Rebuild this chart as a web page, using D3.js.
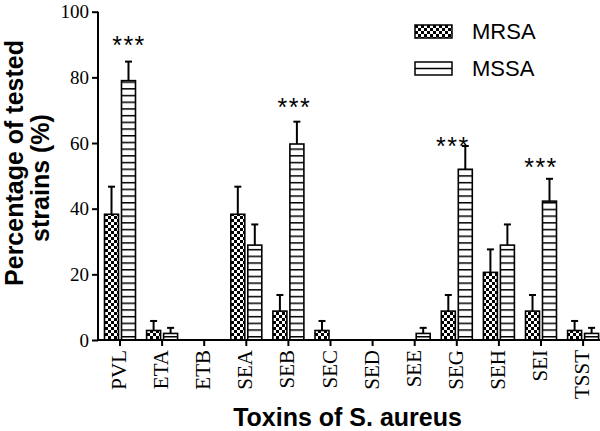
<!DOCTYPE html>
<html><head><meta charset="utf-8">
<script src="https://cdn.jsdelivr.net/npm/d3@7/dist/d3.min.js"></script>
<style>body{margin:0;background:#fff}svg{display:block}</style>
</head><body>
<svg id="chart" width="600" height="431"></svg>
<script>
const categories = ["PVL","ETA","ETB","SEA","SEB","SEC","SED","SEE","SEG","SEH","SEI","TSST"];
const seriesNames = ["MRSA","MSSA"];
const mrsaValues = [38.3, 2.9, 0, 38.3, 8.8, 2.9, 0, 0, 8.8, 20.6, 8.8, 2.9];
const mrsaErrors = [46.7, 5.8, 0, 46.7, 13.7, 5.8, 0, 0, 13.7, 27.6, 13.7, 5.8];
const mssaValues = [79.0, 2.0, 0, 28.9, 59.7, 0, 0, 2.0, 52.0, 28.9, 42.3, 2.0];
const mssaErrors = [84.8, 3.7, 0, 35.2, 66.5, 0, 0, 3.7, 59.1, 35.2, 49.1, 3.7];
const yTicks = [0, 20, 40, 60, 80, 100];
const starCategories = ["PVL","SEB","SEG","SEI"];
const starLevels = [91.4, 72.5, 60.9, 54.4];
const starLabel = "***";
const xTitle = "Toxins of S. aureus";
const yTitleLines = ["Percentage of tested", "strains (%)"];

const svg = d3.select("#chart");
const defs = svg.append("defs");
const chk = defs.append("pattern").attr("id","checker").attr("patternUnits","userSpaceOnUse")
  .attr("width",6).attr("height",6);
chk.append("rect").attr("width",6).attr("height",6).attr("fill","#fff");
chk.append("rect").attr("width",3).attr("height",3).attr("fill","#000");
chk.append("rect").attr("x",3).attr("y",3).attr("width",3).attr("height",3).attr("fill","#000");
const hl = defs.append("pattern").attr("id","hlines").attr("patternUnits","userSpaceOnUse")
  .attr("width",10).attr("height",6.7).attr("y",1);
hl.append("rect").attr("width",10).attr("height",6.7).attr("fill","#fff");
hl.append("rect").attr("y",0).attr("width",10).attr("height",1.5).attr("fill","#000");
const fills = {MRSA:"url(#checker)", MSSA:"url(#hlines)"};

const x0 = d3.scaleBand().domain(categories).range([98.95, 604.15]).paddingInner(0.264).paddingOuter(0.132);
const x1 = d3.scaleBand().domain(seriesNames).range([0, x0.bandwidth()]).paddingInner(0.176);
const y = d3.scaleLinear().domain([0,100]).range([340, 11.7]);

const data = [];
categories.forEach((c,i)=>{
  data.push({cat:c, s:"MRSA", v:mrsaValues[i], e:mrsaErrors[i]});
  data.push({cat:c, s:"MSSA", v:mssaValues[i], e:mssaErrors[i]});
});
const shown = data.filter(d=>d.v>0);

const eb = svg.append("g").attr("stroke","#000").attr("stroke-width",2);
shown.forEach(d=>{
  const cx = x0(d.cat)+x1(d.s)+x1.bandwidth()/2;
  eb.append("line").attr("x1",cx).attr("x2",cx).attr("y1",y(d.v)).attr("y2",y(d.e));
  eb.append("line").attr("x1",cx-3.5).attr("x2",cx+3.5).attr("y1",y(d.e)).attr("y2",y(d.e));
});

svg.append("g").selectAll("rect").data(shown).join("rect")
  .attr("x",d=>x0(d.cat)+x1(d.s))
  .attr("y",d=>y(d.v))
  .attr("width",x1.bandwidth())
  .attr("height",d=>y(0)-y(d.v))
  .attr("fill",d=>fills[d.s])
  .attr("stroke","#000").attr("stroke-width",1.6);

const starNudge = [9, 6, -4, 0];
svg.append("g").selectAll("text").data(starCategories).join("text")
  .attr("x",(c,i)=>x0(c)+x0.bandwidth()/2+starNudge[i])
  .attr("y",(c,i)=>y(starLevels[i])+14.5)
  .attr("text-anchor","middle")
  .attr("font-family","'Liberation Sans', Arial, sans-serif")
  .attr("font-size",25).attr("letter-spacing",1.5)
  .text(starLabel);

const yAxis = svg.append("g").attr("transform","translate(98,0)")
  .call(d3.axisLeft(y).tickValues(yTicks).tickSize(6).tickPadding(3).tickFormat(d3.format("d")));
yAxis.select(".domain").attr("stroke-width",2).attr("d","M0,"+y(100)+"V"+(y(0)+1));
yAxis.selectAll(".tick line").attr("stroke-width",2);
yAxis.selectAll(".tick text").attr("font-family","'Liberation Serif','Times New Roman',serif").attr("font-size",19).attr("fill","#000");

const xAxis = svg.append("g").attr("transform","translate(0,340)")
  .call(d3.axisBottom(x0).tickSize(6).tickSizeOuter(0));
xAxis.select(".domain").attr("stroke-width",2).attr("d","M97,0H604");
xAxis.selectAll(".tick line").attr("stroke-width",2);
xAxis.selectAll(".tick text")
  .attr("font-family","'Liberation Serif','Times New Roman',serif").attr("font-size",21).attr("fill","#000")
  .attr("text-anchor","end").attr("y",0).attr("dy",0)
  .attr("transform","translate(6,10) rotate(-90)");

svg.append("text").attr("x",347.5).attr("y",426)
  .attr("text-anchor","middle").attr("font-family","'Liberation Sans', Arial, sans-serif")
  .attr("font-weight","bold").attr("font-size",25).text(xTitle);
svg.append("text").attr("transform","translate(23,163) rotate(-90)")
  .attr("text-anchor","middle").attr("font-family","'Liberation Sans', Arial, sans-serif")
  .attr("font-weight","bold").attr("font-size",25).text(yTitleLines[0]);
svg.append("text").attr("transform","translate(49,178) rotate(-90)")
  .attr("text-anchor","middle").attr("font-family","'Liberation Sans', Arial, sans-serif")
  .attr("font-weight","bold").attr("font-size",25).text(yTitleLines[1]);

const lg = svg.append("g");
const legendY = [25, 62];
seriesNames.forEach((s,i)=>{
  const g = lg.append("g").attr("transform",`translate(415,${legendY[i]})`);
  if (s==="MRSA") {
    g.append("rect").attr("width",37).attr("height",13).attr("fill",fills[s]).attr("stroke","#000").attr("stroke-width",1.5);
  } else {
    g.append("rect").attr("width",37).attr("height",13).attr("fill","#fff").attr("stroke","#000").attr("stroke-width",1.5);
    g.append("line").attr("x1",0).attr("x2",37).attr("y1",6.5).attr("y2",6.5).attr("stroke","#000").attr("stroke-width",1.5);
  }
  g.append("text").attr("x",57).attr("y",6.5).attr("dy","0.36em")
    .attr("font-family","'Liberation Sans', Arial, sans-serif").attr("font-size",22).text(s);
});
</script>
</body></html>
